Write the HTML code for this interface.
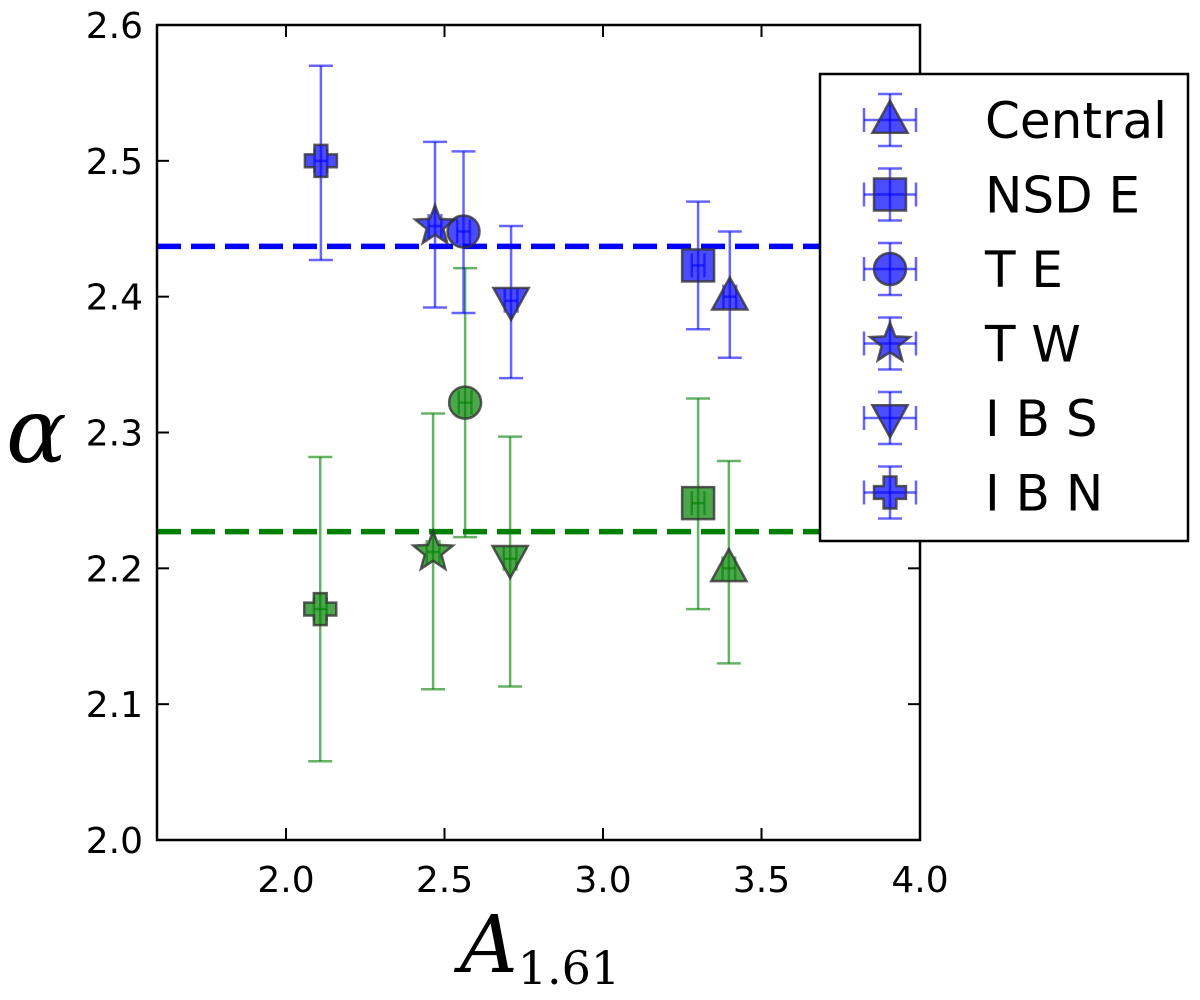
<!DOCTYPE html>
<html><head><meta charset="utf-8"><style>body{margin:0;background:#fff}svg{display:block}</style></head>
<body>
<svg id="chart" width="1200" height="1000" xmlns="http://www.w3.org/2000/svg" font-family="DejaVu Sans, Liberation Sans, sans-serif"></svg>
<script>
const categories = ["Central","NSD E","T E","T W","I B S","I B N"];
const markers = ["tri-up","square","circle","star","tri-down","plus"];
const blueX = [3.40,3.30,2.56,2.47,2.71,2.11];
const blueY = [2.40,2.423,2.448,2.452,2.397,2.50];
const blueLo = [2.355,2.376,2.388,2.392,2.34,2.427];
const blueHi = [2.448,2.47,2.507,2.514,2.452,2.57];
const greenX = [3.397,3.30,2.565,2.464,2.707,2.108];
const greenY = [2.20,2.248,2.322,2.212,2.207,2.17];
const greenLo = [2.13,2.17,2.223,2.111,2.113,2.058];
const greenHi = [2.279,2.325,2.421,2.314,2.297,2.282];
const xErr = 0.02;
const blueMean = 2.437, greenMean = 2.227;
const xTicks = [2.0,2.5,3.0,3.5,4.0];
const yTicks = [2.0,2.1,2.2,2.3,2.4,2.5,2.6];

const NS="http://www.w3.org/2000/svg", svg=document.getElementById('chart');
const L=157,R=920,T=25,B=840,X0=1.593,X1=4.0,Y0=2.0,Y1=2.6;
const sx=v=>L+(v-X0)/(X1-X0)*(R-L), sy=v=>B-(v-Y0)/(Y1-Y0)*(B-T);
function el(t,a,p){const e=document.createElementNS(NS,t);for(const k in a)e.setAttribute(k,a[k]);(p||svg).appendChild(e);return e;}
function markerShape(type,cx,cy,fill,g){
  const s=16, st={fill:fill,'fill-opacity':0.7,stroke:'#333','stroke-width':2.5,'stroke-opacity':0.8};
  let e;
  if(type==='circle') e=el('circle',Object.assign({cx,cy,r:s},st),g);
  else if(type==='square') e=el('rect',Object.assign({x:cx-s,y:cy-s,width:2*s,height:2*s},st),g);
  else if(type==='tri-up') e=el('polygon',Object.assign({points:`${cx},${cy-s*1.2} ${cx-s*1.1},${cy+s*0.8} ${cx+s*1.1},${cy+s*0.8}`},st),g);
  else if(type==='tri-down') e=el('polygon',Object.assign({points:`${cx},${cy+s*1.2} ${cx-s*1.1},${cy-s*0.8} ${cx+s*1.1},${cy-s*0.8}`},st),g);
  else if(type==='star'){let p=[];for(let i=0;i<10;i++){const r=i%2?s*0.55:s*1.3,a=-Math.PI/2+i*Math.PI/5;p.push((cx+r*Math.cos(a)).toFixed(1)+','+(cy+r*Math.sin(a)).toFixed(1));}e=el('polygon',Object.assign({points:p.join(' ')},st),g);}
  else {const a=s*0.4,b=s*1.0;e=el('polygon',Object.assign({points:`${cx-a},${cy-b} ${cx+a},${cy-b} ${cx+a},${cy-a} ${cx+b},${cy-a} ${cx+b},${cy+a} ${cx+a},${cy+a} ${cx+a},${cy+b} ${cx-a},${cy+b} ${cx-a},${cy+a} ${cx-b},${cy+a} ${cx-b},${cy-a} ${cx-a},${cy-a}`},st),g);}
  return e;
}
function errBar(cx,y1,y2,x1,x2,cy,col,g){
  const st={stroke:col,'stroke-width':2.5,'stroke-opacity':0.6};
  el('line',Object.assign({x1:cx,x2:cx,y1:y1,y2:y2},st),g);
  el('line',Object.assign({x1:cx-12,x2:cx+12,y1:y1,y2:y1},st),g);
  el('line',Object.assign({x1:cx-12,x2:cx+12,y1:y2,y2:y2},st),g);
  el('line',Object.assign({x1:x1,x2:x2,y1:cy,y2:cy},st),g);
  el('line',Object.assign({x1:x1,x2:x1,y1:cy-12,y2:cy+12},st),g);
  el('line',Object.assign({x1:x2,x2:x2,y1:cy-12,y2:cy+12},st),g);
}
let ml=el('line',{x1:L,x2:R,y1:sy(blueMean),y2:sy(blueMean),stroke:'#0000ff','stroke-width':5.5,'stroke-dasharray':'24,10'});

ml=el('line',{x1:L,x2:R,y1:sy(greenMean),y2:sy(greenMean),stroke:'#008000','stroke-width':5.5,'stroke-dasharray':'24,10'});

function series(xs,ys,lo,hi,col,name){
  for(let i=0;i<xs.length;i++){
    const g=el('g',{});
    
    
    const cx=sx(xs[i]),cy=sy(ys[i]);
    errBar(cx,sy(hi[i]),sy(lo[i]),sx(xs[i]-xErr),sx(xs[i]+xErr),cy,col,g);
    markerShape(markers[i],cx,cy,col,g);
  }
}
series(greenX,greenY,greenLo,greenHi,'#008000','green-point');
series(blueX,blueY,blueLo,blueHi,'#0000ff','blue-point');
const fr=el('rect',{x:L,y:T,width:R-L,height:B-T,fill:'none',stroke:'#000','stroke-width':2.5});

xTicks.forEach(v=>{const x=sx(v);
  el('line',{x1:x,x2:x,y1:B,y2:B-12,stroke:'#000','stroke-width':2});
  el('line',{x1:x,x2:x,y1:T,y2:T+12,stroke:'#000','stroke-width':2});
  const t=el('text',{x:x,y:B+52,'font-size':36,'text-anchor':'middle'});t.textContent=v.toFixed(1);
  });
yTicks.forEach(v=>{const y=sy(v);
  el('line',{x1:L,x2:L+12,y1:y,y2:y,stroke:'#000','stroke-width':2});
  el('line',{x1:R,x2:R-12,y1:y,y2:y,stroke:'#000','stroke-width':2});
  const t=el('text',{x:L-14,y:y+13,'font-size':36,'text-anchor':'end'});t.textContent=v.toFixed(1);
  });
let yt=el('text',{x:6,y:462,'font-size':90,'font-style':'italic','font-family':'DejaVu Serif, Liberation Serif, serif'});yt.textContent='α';

let xt=el('text',{x:460,y:972,'font-size':80,'font-style':'italic','font-family':'DejaVu Serif, Liberation Serif, serif'});

xt.innerHTML='A<tspan font-size="46" font-style="normal" dy="12">1.61</tspan>';
const lg=el('g',{});
el('rect',{x:820,y:74,width:368,height:467,fill:'#fff',stroke:'#000','stroke-width':2.5},lg);
categories.forEach((c,i)=>{
  const g=el('g',{},lg);
  
  const cy=120+i*74.5,cx=890;
  errBar(cx,cy-26,cy+26,cx-26,cx+26,cy,'#0000ff',g);
  markerShape(markers[i],cx,cy,'#0000ff',g);
  const t=el('text',{x:985,y:cy+18,'font-size':50},g);t.textContent=c;
});
</script>
</body></html>
